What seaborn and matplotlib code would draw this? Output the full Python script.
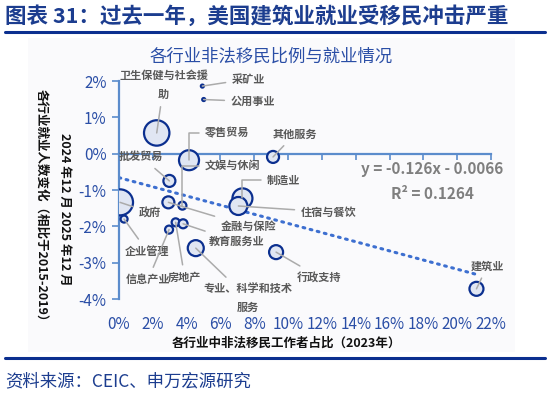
import matplotlib
matplotlib.use("Agg")
import matplotlib.pyplot as plt
import seaborn as sns
import pandas as pd
import numpy as np
from matplotlib.ticker import PercentFormatter, MultipleLocator
from matplotlib.patches import Rectangle

# ---------------- data ----------------
industries = ["卫生保健与社会援\n助", "采矿业", "公用事业", "零售贸易", "文娱与休闲", "其他服务",
              "批发贸易", "政府", "企业管理", "信息产业", "房地产", "教育服务业",
              "金融与保险", "专业、科学和技术\n服务", "制造业", "住宿与餐饮", "行政支持", "建筑业"]
immigrant_share = [0.0223, 0.0493, 0.0501, 0.0414, 0.0375, 0.0911,
                   0.0298, 0.0006, 0.0030, 0.0296, 0.0335, 0.0379,
                   0.0292, 0.0454, 0.0730, 0.0706, 0.0929, 0.2114]
employment_change = [0.0057, 0.0186, 0.0149, -0.0018, -0.0143, -0.0009,
                     -0.0075, -0.0134, -0.0180, -0.0209, -0.0189, -0.0193,
                     -0.0134, -0.0260, -0.0123, -0.0144, -0.0271, -0.0372]
bubble_size = [12.7, 1.5, 1.5, 10.0, 4.0, 6.0,
               6.0, 13.0, 3.5, 4.0, 4.0, 4.5,
               6.0, 8.0, 10.0, 9.0, 7.0, 7.0]
# label offsets (pixels, y up)
label_dx = [7, 46, 49, 38, 50, 22, -28, 30, 23, -21, 9, 54, 80, 52, 41, 90, 43, 11]
label_dy = [48, 7, -2, 27, 40, 23, 24, -10, -32, -50, -55, -18, -24, -50, 18, -6, -25, 23]
elbow = [False, False, False, True, True, False, False, False, False, False, False, False,
         False, False, True, False, False, False]

trend_slope = -0.126
trend_intercept = -0.0066
equation_text = "y = -0.126x - 0.0066"
r2_text = "R² = 0.1264"

title = "图表 31：过去一年，美国建筑业就业受移民冲击严重"
subtitle = "各行业非法移民比例与就业情况"
xlabel = "各行业中非法移民工作者占比（2023年）"
ylabel1 = "各行业就业人数变化（相比于2015-2019）"
ylabel2 = "2024 年12 月 2025 年12 月"
source = "资料来源：CEIC、申万宏源研究"

# ---------------- style ----------------
sns.set_theme(style="white")
plt.rcParams['font.family'] = ['Noto Sans CJK SC', 'DejaVu Sans']
plt.rcParams['axes.unicode_minus'] = False

W, H, DPI = 550, 395, 100
fig = plt.figure(figsize=(W / DPI, H / DPI), dpi=DPI)
fig.patch.set_facecolor("white")

# faint panel background
fig.patches.append(Rectangle((28 / W, 1 - 352 / H), (515 - 28) / W, (352 - 38) / H,
                             transform=fig.transFigure, facecolor="#fafafc", edgecolor="none", zorder=-10))

ax = fig.add_axes([119 / W, 1 - 299 / H, (491 - 119) / W, (299 - 81) / H])
ax.set_facecolor("none")
ax.set_zorder(5)

navy = "#0b2f8f"
tick_blue = "#2a4ea6"
axis_blue = "#5b8ccc"
gray_text = "#595959"
lead = "#ababab"

df = pd.DataFrame({"share": immigrant_share, "chg": employment_change,
                   "r": bubble_size, "name": industries})
df["s"] = (2 * df["r"] * 72 / DPI) ** 2
smin, smax = df["s"].min(), df["s"].max()

# trend line
tx = np.array([0.0, max(immigrant_share)])
trend = pd.DataFrame({"x": tx, "y": trend_slope * tx + trend_intercept})
sns.lineplot(data=trend, x="x", y="y", ax=ax, color="#3d6fd0", lw=2.2,
             linestyle=(0, (0.6, 1.8)), dash_capstyle="round", zorder=2)

sns.scatterplot(data=df, x="share", y="chg", size="s", sizes=(smin, smax),
                size_norm=(smin, smax), legend=False, ax=ax,
                color="#e0e6f3", edgecolor=navy, linewidth=1.6, zorder=3)

ax.set_xlim(0, 0.22)
ax.set_ylim(-0.04, 0.02)

# axes styling
for s in ["top", "right"]:
    ax.spines[s].set_visible(False)
ax.spines["left"].set_color(axis_blue)
ax.spines["left"].set_linewidth(1.6)
ax.spines["bottom"].set_position(("data", 0))
ax.spines["bottom"].set_color(axis_blue)
ax.spines["bottom"].set_linewidth(1.6)
ax.spines["bottom"].set_zorder(1)
ax.xaxis.set_major_locator(MultipleLocator(0.02))
ax.yaxis.set_major_locator(MultipleLocator(0.01))
ax.tick_params(axis="x", bottom=True, direction="out", length=4, width=1.2, color=axis_blue,
               labelbottom=False)
ax.tick_params(axis="y", left=True, direction="out", length=5, width=1.2, color=axis_blue,
               labelsize=11, labelcolor=tick_blue, pad=4)
ax.yaxis.set_major_formatter(PercentFormatter(1.0, decimals=0))
ax.set_xlabel("")
ax.set_ylabel("")

sec = ax.secondary_xaxis("bottom")
sec.xaxis.set_major_locator(MultipleLocator(0.02))
sec.xaxis.set_major_formatter(PercentFormatter(1.0, decimals=0))
sec.spines["bottom"].set_visible(False)
sec.tick_params(axis="x", length=0, labelsize=11, labelcolor=tick_blue, pad=12)

# annotations
k = 72 / DPI
for i, row in df.iterrows():
    cs = "angle,angleA=0,angleB=90,rad=0" if elbow[i] else "arc3"
    ax.annotate(row["name"], xy=(row["share"], row["chg"]),
                xytext=(label_dx[i] * k, label_dy[i] * k), textcoords="offset points",
                ha="center", va="center", fontsize=8, color=gray_text, fontweight="bold",
                linespacing=1.55, annotation_clip=False,
                arrowprops=dict(arrowstyle="-", color=lead, lw=1.1, connectionstyle=cs,
                                shrinkA=2, shrinkB=0), zorder=4)

fig.text(432 / W, 1 - 169 / H, equation_text, ha="center", va="center",
         fontsize=11, color="#7f7f7f", fontweight="bold")
fig.text(432 / W, 1 - 194 / H, r2_text, ha="center", va="center",
         fontsize=11, color="#7f7f7f", fontweight="bold")

# titles and labels
fig.text(5 / W, 1 - 16 / H, title, ha="left", va="center", fontsize=15.5, fontweight="bold", color="#1c3d8f")
fig.add_artist(plt.Line2D([5 / W, 545 / W], [1 - 32 / H, 1 - 32 / H], color=navy, lw=2.2))
fig.text(271 / W, 1 - 57 / H, subtitle, ha="center", va="center", fontsize=12.5, color="#2a4ea6")
fig.text(286 / W, 1 - 343 / H, xlabel, ha="center", va="center", fontsize=9, fontweight="bold", color="#111111")
fig.text(41 / W, 1 - 208 / H, ylabel1, ha="center", va="center", rotation=-90, fontsize=9,
         fontweight="bold", color="#111111")
fig.text(65 / W, 1 - 209 / H, ylabel2, ha="center", va="center", rotation=-90, fontsize=9,
         fontweight="bold", color="#111111")
fig.add_artist(plt.Line2D([5 / W, 545 / W], [1 - 358 / H, 1 - 358 / H], color=navy, lw=2.2))
fig.text(5 / W, 1 - 381 / H, source, ha="left", va="center", fontsize=12.5, color="#1c3d8f")

fig.savefig("out.png", dpi=DPI)
